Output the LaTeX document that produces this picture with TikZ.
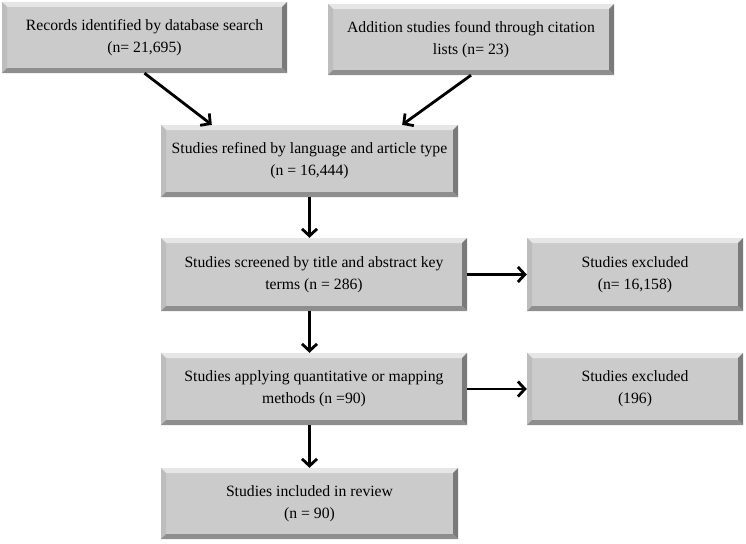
\documentclass[tikz,border=0pt]{standalone}
\usepackage{fontspec}
\setmainfont{Liberation Serif}
\usetikzlibrary{arrows.meta}
\definecolor{boxgray}{HTML}{CBCBCB}
\definecolor{bevtop}{HTML}{E6E6E6}
\definecolor{bevleft}{HTML}{BDBDBD}
\definecolor{bevright}{HTML}{7A7A7A}
\definecolor{bevbot}{HTML}{8E8E8E}
\begin{document}
\begin{tikzpicture}[x=1pt,y=-1pt,
	stage/.style={fill=boxgray,inner sep=0pt,align=center,font=\fontsize{15.7}{22}\selectfont,
		path picture={
			\fill[bevtop] (path picture bounding box.north west) -- (path picture bounding box.north east) -- ([xshift=-5pt,yshift=-5pt]path picture bounding box.north east) -- ([xshift=5pt,yshift=-5pt]path picture bounding box.north west) -- cycle;
			\fill[bevleft] (path picture bounding box.north west) -- ([xshift=5pt,yshift=-5pt]path picture bounding box.north west) -- ([xshift=5pt,yshift=5pt]path picture bounding box.south west) -- (path picture bounding box.south west) -- cycle;
			\fill[bevright] (path picture bounding box.north east) -- ([xshift=-5pt,yshift=-5pt]path picture bounding box.north east) -- ([xshift=-5pt,yshift=5pt]path picture bounding box.south east) -- (path picture bounding box.south east) -- cycle;
			\fill[bevbot] (path picture bounding box.south west) -- ([xshift=5pt,yshift=5pt]path picture bounding box.south west) -- ([xshift=-5pt,yshift=5pt]path picture bounding box.south east) -- (path picture bounding box.south east) -- cycle;
		}},
	arr/.style={line width=2.8pt,-{Straight Barb[length=7pt,width=15pt,line width=2.8pt]}}]
	\useasboundingbox (0,0) rectangle (746,543);
	% sources
	\node[stage,minimum width=285,minimum height=71] (rec) at (144.5,37.5) {Records identified by database search\\(n= 21,695)};
	\node[stage,minimum width=286,minimum height=71] (add) at (471,39.5) {Addition studies found through citation\\lists (n= 23)};
	% main column
	\node[stage,minimum width=297,minimum height=72] (refined) at (309.5,161) {Studies refined by language and article type\\(n = 16,444)};
	\node[stage,minimum width=306,minimum height=73] (screened) at (314,274.5) {Studies screened by title and abstract key\\terms (n = 286)};
	\node[stage,minimum width=306,minimum height=72] (applying) at (314,389) {Studies applying quantitative or mapping\\methods (n =90)};
	\node[stage,minimum width=297,minimum height=71] (included) at (309.5,503.5) {Studies included in review\\(n = 90)};
	% exclusions
	\node[stage,minimum width=216,minimum height=73] (excl1) at (635,274.5) {Studies excluded\\(n= 16,158)};
	\node[stage,minimum width=216,minimum height=72] (excl2) at (635,389) {Studies excluded\\(196)};
	% arrows
	\draw[arr] (rec.south) -- ([xshift=51pt]refined.north west);
	\draw[arr] (add.south) -- ([xshift=-56pt]refined.north east);
	\draw[arr] (refined.south) -- (refined.south |- screened.north);
	\draw[arr] (included.north |- screened.south) -- (included.north |- applying.north);
	\draw[arr] (included.north |- applying.south) -- (included.north);
	\draw[arr] (screened.east) -- (excl1.west);
	\draw[arr] (applying.east) -- (excl2.west);
\end{tikzpicture}
\end{document}
